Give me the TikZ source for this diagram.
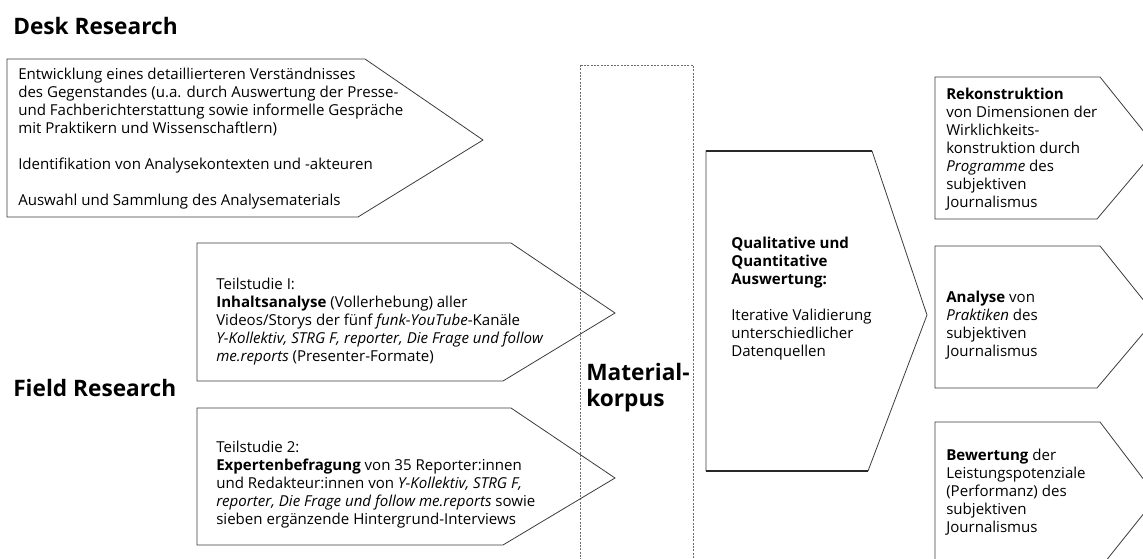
\documentclass[tikz,border=0pt]{standalone}
\usepackage{fontspec}
\setmainfont{Open Sans}
\usepackage{tikz}

\begin{document}
\begin{tikzpicture}[x=0.75pt,y=0.75pt,yscale=-1,xscale=1,
    box/.style={draw={rgb, 255:red, 60; green, 60; blue, 60 }, line width=0.6pt},
    txt/.style={anchor=north west, inner sep=0pt, align=left, font=\fontsize{11.3}{13.5}\selectfont},
    head/.style={anchor=base west, inner sep=0pt, align=left, font=\fontsize{17}{19.5}\selectfont\bfseries}]
        %set diagram to 1143 x 559
        \useasboundingbox (0,0) rectangle (1143,559);
        \clip (0,0) rectangle (1143,559);

        %Shape: Rectangle (dashed) 
        \draw [draw={rgb, 255:red, 110; green, 110; blue, 110 }, line width=0.5pt, dash pattern=on 1.5pt off 1pt] (580,65) rectangle (693,580);

        %Shape: Polygon 
        \draw [box] (7,59) -- (365,59) -- (483,140) -- (358,217) -- (7,217) -- cycle ;
        %Shape: Polygon 
        \draw [box] (197,243) -- (511,243) -- (615,313) -- (503,381) -- (197,381) -- cycle ;
        %Shape: Polygon 
        \draw [box] (197,408) -- (511,408) -- (615,478) -- (503,545) -- (197,545) -- cycle ;

        %Shape: Polygon 
        \draw [box] (706,151) -- (872,151) -- (927,315) -- (868,471) -- (706,471) -- cycle ;
        \draw [line width=1.5pt, draw={rgb, 255:red, 40; green, 40; blue, 40 }] (706,151) -- (872,151) ;
        \draw [line width=1.5pt, draw={rgb, 255:red, 40; green, 40; blue, 40 }] (706,471) -- (868,471) ;

        %Shape: Polygon 
        \draw [box] (935,77) -- (1100,77) -- (1157,148) -- (1097,219) -- (935,219) -- cycle ;
        %Shape: Polygon 
        \draw [box] (935,246) -- (1100,246) -- (1157,317) -- (1097,388) -- (935,388) -- cycle ;
        %Shape: Polygon 
        \draw [box] (935,422) -- (1100,422) -- (1157,497) -- (1097,572) -- (935,572) -- cycle ;

        % Text Node
        \node (desk) [head] at (13,35) {Desk Research};
        % Text Node
        \node (field) [head] at (13,397) {Field Research};
        % Text Node
        \node (korpus) [head, anchor=north west] at (586,361.8) {\strut Material-\\korpus};

        % Text Node
        \node (desktxt) [txt] at (18,66.4) {\strut Entwicklung eines detaillierteren Verständnisses\\
            des Gegenstandes (u.a. durch Auswertung der Presse-\\
            und Fachberichterstattung sowie informelle Gespräche\\
            mit Praktikern und Wissenschaftlern)\\[13.5pt]
            Identifikation von Analysekontexten und -akteuren\\[13.5pt]
            Auswahl und Sammlung des Analysematerials};
        % Text Node
        \node (studie1) [txt] at (216,276.4) {\strut Teilstudie I:\\
            \textbf{Inhaltsanalyse} (Vollerhebung) aller\\
            Videos/Storys der fünf \textit{funk-YouTube}-Kanäle\\
            \textit{Y-Kollektiv, STRG F, reporter, Die Frage und follow}\\
            \textit{me.reports} (Presenter-Formate)};
        % Text Node
        \node (studie2) [txt] at (216,439.4) {\strut Teilstudie 2:\\
            \textbf{Expertenbefragung} von 35 Reporter:innen\\
            und Redakteur:innen von \textit{Y-Kollektiv, STRG F,}\\
            \textit{reporter, Die Frage und follow me.reports} sowie\\
            sieben ergänzende Hintergrund-Interviews};
        % Text Node
        \node (auswertung) [txt] at (731,235.4) {\strut\textbf{Qualitative und}\\
            \textbf{Quantitative}\\
            \textbf{Auswertung:}\\[13.5pt]
            Iterative Validierung\\
            unterschiedlicher\\
            Datenquellen};
        % Text Node
        \node (rekon) [txt] at (946,86.4) {\strut\textbf{Rekonstruktion}\\
            von Dimensionen der\\
            Wirklichkeits-\\
            konstruktion durch\\
            \textit{Programme} des\\
            subjektiven\\
            Journalismus};
        % Text Node
        \node (analyse) [txt] at (946,289.4) {\strut\textbf{Analyse} von\\
            \textit{Praktiken} des\\
            subjektiven\\
            Journalismus};
        % Text Node
        \node (bewertung) [txt] at (946,447.4) {\strut\textbf{Bewertung} der\\
            Leistungspotenziale\\
            (Performanz) des\\
            subjektiven\\
            Journalismus};

    \end{tikzpicture}
\end{document}
